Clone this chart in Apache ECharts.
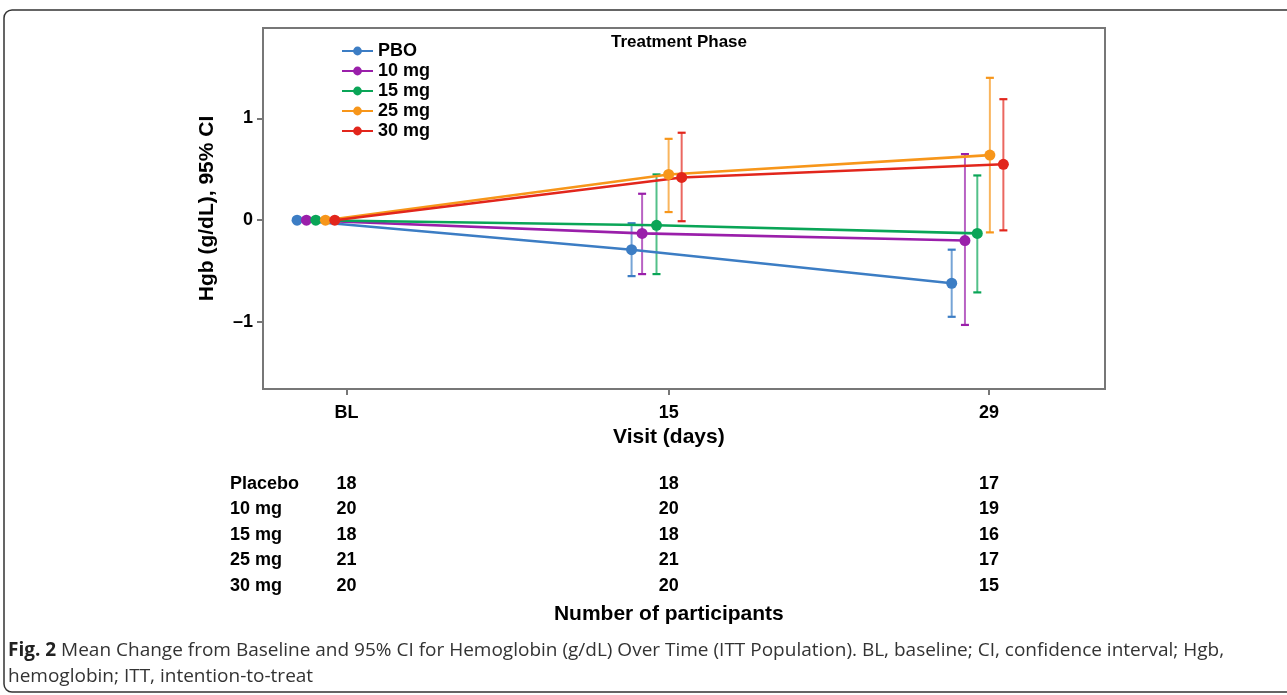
<!DOCTYPE html>
<html>
<head>
<meta charset="utf-8">
<script src="https://cdn.jsdelivr.net/npm/echarts@6/dist/echarts.min.js"></script>
<style>
html,body{margin:0;padding:0;background:#fff;}
#chart{width:1287px;height:695px;}
</style>
</head>
<body>
<div id="chart"></div>
<script>
// ---- data ----
const seriesNames = ['PBO', '10 mg', '15 mg', '25 mg', '30 mg'];
const seriesColors = ['#3C7DC4', '#9A1FAA', '#0AA557', '#F7961A', '#E2261C'];
const visitTickValues = [0.9, 15, 29];
const visitTickLabels = ['BL', '15', '29'];
const yTickValues = [-1, 0, 1];
// dodged x position (days) of each point
const xPBO = [-1.26, 13.37, 27.37];
const x10 = [-0.85, 13.83, 27.95];
const x15 = [-0.44, 14.46, 28.49];
const x25 = [-0.02, 14.99, 29.04];
const x30 = [0.39, 15.56, 29.63];
// mean change
const meanPBO = [0, -0.29, -0.62];
const mean10 = [0, -0.13, -0.20];
const mean15 = [0, -0.05, -0.13];
const mean25 = [0, 0.45, 0.64];
const mean30 = [0, 0.42, 0.55];
// 95% CI lower / upper
const lowPBO = [null, -0.55, -0.95];
const low10 = [null, -0.53, -1.03];
const low15 = [null, -0.53, -0.71];
const low25 = [null, 0.08, -0.12];
const low30 = [null, -0.01, -0.10];
const upPBO = [null, -0.03, -0.29];
const up10 = [null, 0.26, 0.65];
const up15 = [null, 0.45, 0.44];
const up25 = [null, 0.80, 1.40];
const up30 = [null, 0.86, 1.19];
// number of participants
const tableRowLabels = ['Placebo', '10 mg', '15 mg', '25 mg', '30 mg'];
const nPlacebo = [18, 18, 17];
const n10 = [20, 20, 19];
const n15 = [18, 18, 16];
const n25 = [21, 21, 17];
const n30 = [20, 20, 15];

const xs = [xPBO, x10, x15, x25, x30];
const means = [meanPBO, mean10, mean15, mean25, mean30];
const lows = [lowPBO, low10, low15, low25, low30];
const ups = [upPBO, up10, up15, up25, up30];
const counts = [nPlacebo, n10, n15, n25, n30];

const FONT = "'Liberation Sans', Arial, sans-serif";
const CAPFONT = "'Open Sans', sans-serif";
const chart = echarts.init(document.getElementById('chart'), null, {renderer: 'canvas'});

const series = [];
seriesNames.forEach((name, s) => {
  const color = seriesColors[s];
  const errData = [];
  xs[s].forEach((x, i) => {
    if (lows[s][i] !== null) errData.push([x, lows[s][i], ups[s][i]]);
  });
  series.push({
    type: 'custom',
    name: name + ' CI',
    z: 1,
    silent: true,
    data: errData,
    renderItem: function (params, api) {
      const x = api.value(0), lo = api.value(1), hi = api.value(2);
      const p1 = api.coord([x, lo]);
      const p2 = api.coord([x, hi]);
      const w = 4;
      return {
        type: 'group',
        children: [
          {type: 'line', shape: {x1: p1[0], y1: p1[1], x2: p2[0], y2: p2[1]}, style: {stroke: color, lineWidth: 2, opacity: 0.7}},
          {type: 'line', shape: {x1: p1[0] - w, y1: p1[1], x2: p1[0] + w, y2: p1[1]}, style: {stroke: color, lineWidth: 2.2}},
          {type: 'line', shape: {x1: p2[0] - w, y1: p2[1], x2: p2[0] + w, y2: p2[1]}, style: {stroke: color, lineWidth: 2.2}}
        ]
      };
    }
  });
});
seriesNames.forEach((name, s) => {
  series.push({
    type: 'line',
    name: name,
    z: 3,
    data: xs[s].map((x, i) => [x, means[s][i]]),
    symbol: 'circle',
    symbolSize: 11,
    showSymbol: true,
    color: seriesColors[s],
    lineStyle: {width: 2.6, color: seriesColors[s]},
    itemStyle: {color: seriesColors[s]}
  });
});

const option = {
  animation: false,
  backgroundColor: '#fff',
  textStyle: {fontFamily: FONT},
  grid: {left: 263, right: 182, top: 28, bottom: 306, show: true, borderColor: '#777', borderWidth: 2, containLabel: false},
  legend: {
    data: seriesNames,
    orient: 'vertical',
    left: 336,
    top: 37,
    itemWidth: 31,
    itemHeight: 11,
    itemGap: 2,
    textStyle: {fontFamily: FONT, fontSize: 18, fontWeight: 'bold', color: '#000', lineHeight: 18}
  },
  xAxis: {
    type: 'value',
    min: -2.75,
    max: 34.075,
    axisLine: {show: true, onZero: false, lineStyle: {color: '#777', width: 2}},
    axisTick: {show: true, length: 6, lineStyle: {color: '#777', width: 2}, customValues: visitTickValues},
    axisLabel: {
      customValues: visitTickValues,
      fontFamily: FONT, fontSize: 18, fontWeight: 'bold', color: '#000', margin: 15,
      formatter: function (v) {
        const idx = visitTickValues.findIndex(t => Math.abs(t - v) < 1e-6);
        return idx >= 0 ? visitTickLabels[idx] : '';
      }
    },
    splitLine: {show: false}
  },
  yAxis: {
    type: 'value',
    min: -1.66,
    max: 1.89,
    name: 'Hgb (g/dL), 95% CI',
    nameLocation: 'middle',
    nameGap: 45,
    nameTextStyle: {fontFamily: FONT, fontSize: 21, fontWeight: 'bold', color: '#000'},
    axisLine: {show: true, onZero: false, lineStyle: {color: '#777', width: 2}},
    axisTick: {show: true, length: 6, lineStyle: {color: '#777', width: 2}, customValues: yTickValues},
    axisLabel: {
      customValues: yTickValues,
      fontFamily: FONT, fontSize: 18, fontWeight: 'bold', color: '#000', margin: 10,
      formatter: function (v) { return v < 0 ? '\u2013' + Math.abs(v) : String(v); }
    },
    splitLine: {show: false}
  },
  series: series
};
chart.setOption(option);

// ---- annotations, table, caption ----
const graphics = [];
graphics.push({
  type: 'rect', silent: true, z: -10,
  shape: {x: 4, y: 10, width: 1320, height: 682, r: 8},
  style: {fill: null, stroke: '#333', lineWidth: 1.5}
});
graphics.push({
  type: 'text', silent: true,
  style: {text: 'Treatment Phase', x: 679, y: 42, font: 'bold 17px ' + FONT, fill: '#000', textAlign: 'center', textVerticalAlign: 'middle'}
});
const colPx = visitTickValues.map(v => chart.convertToPixel({xAxisIndex: 0}, v));
graphics.push({
  type: 'text', silent: true,
  style: {text: 'Visit (days)', x: colPx[1], y: 437, font: 'bold 21px ' + FONT, fill: '#000', textAlign: 'center', textVerticalAlign: 'middle'}
});
const rowY = [483, 508.5, 534, 559.5, 585];
tableRowLabels.forEach((lab, r) => {
  graphics.push({
    type: 'text', silent: true,
    style: {text: lab, x: 230, y: rowY[r] + 1, font: 'bold 18px ' + FONT, fill: '#000', textAlign: 'left', textVerticalAlign: 'middle'}
  });
  counts[r].forEach((n, c) => {
    graphics.push({
      type: 'text', silent: true,
      style: {text: String(n), x: colPx[c], y: rowY[r] + 1, font: 'bold 18px ' + FONT, fill: '#000', textAlign: 'center', textVerticalAlign: 'middle'}
    });
  });
});
graphics.push({
  type: 'text', silent: true,
  style: {text: 'Number of participants', x: colPx[1], y: 614, font: 'bold 21px ' + FONT, fill: '#000', textAlign: 'center', textVerticalAlign: 'middle'}
});
graphics.push({
  type: 'text', silent: true,
  style: {
    x: 8, y: 651, textVerticalAlign: 'middle',
    text: '{b|Fig. 2} Mean Change from Baseline and 95% CI for Hemoglobin (g/dL) Over Time (ITT Population). BL, baseline; CI, confidence interval; Hgb,',
    rich: {b: {font: 'bold 19px ' + CAPFONT, fill: '#222'}},
    font: '19px ' + CAPFONT, fill: '#333'
  }
});
graphics.push({
  type: 'text', silent: true,
  style: {x: 8, y: 677, textVerticalAlign: 'middle', text: 'hemoglobin; ITT, intention-to-treat', font: '19px ' + CAPFONT, fill: '#333'}
});
chart.setOption({graphic: {elements: graphics}});
</script>
</body>
</html>
